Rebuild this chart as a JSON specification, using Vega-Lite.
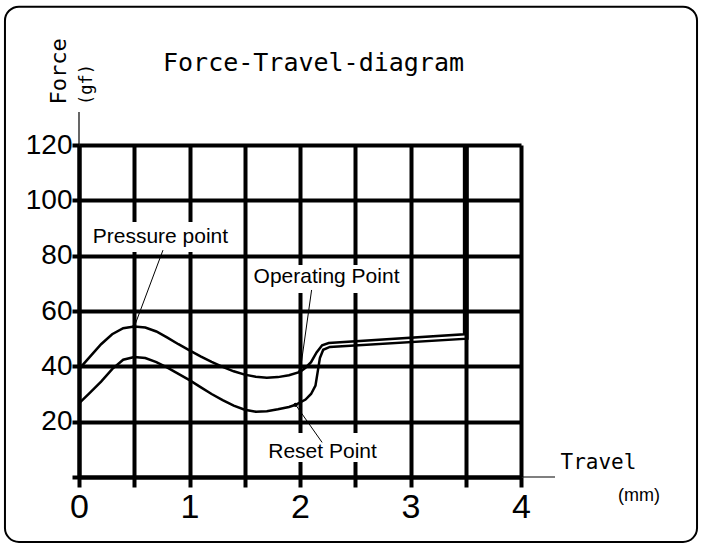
{
  "$schema": "https://vega.github.io/schema/vega-lite/v6.json",
  "width": 442,
  "height": 332,
  "autosize": {"type": "none"},
  "padding": {"left": 79, "top": 145, "right": 183, "bottom": 71},
  "background": "white",
  "title": {
    "text": "Force-Travel-diagram",
    "anchor": "start",
    "frame": "group",
    "dx": 84,
    "offset": -90,
    "baseline": "alphabetic",
    "font": "DejaVu Sans Mono",
    "fontSize": 25,
    "fontWeight": "normal",
    "color": "black"
  },
  "datasets": {
    "curves": [
      {"series": "press", "i": 1, "travel": 0, "force": 39},
      {"series": "press", "i": 2, "travel": 0.1, "force": 43.5},
      {"series": "press", "i": 3, "travel": 0.2, "force": 48},
      {"series": "press", "i": 4, "travel": 0.3, "force": 51.6},
      {"series": "press", "i": 5, "travel": 0.4, "force": 53.8},
      {"series": "press", "i": 6, "travel": 0.5, "force": 54.4},
      {"series": "press", "i": 7, "travel": 0.6, "force": 54},
      {"series": "press", "i": 8, "travel": 0.7, "force": 52.6},
      {"series": "press", "i": 9, "travel": 0.8, "force": 50.4},
      {"series": "press", "i": 10, "travel": 0.9, "force": 48},
      {"series": "press", "i": 11, "travel": 1.0, "force": 45.8},
      {"series": "press", "i": 12, "travel": 1.1, "force": 43.6},
      {"series": "press", "i": 13, "travel": 1.2, "force": 41.6},
      {"series": "press", "i": 14, "travel": 1.3, "force": 39.8},
      {"series": "press", "i": 15, "travel": 1.4, "force": 38.2},
      {"series": "press", "i": 16, "travel": 1.5, "force": 37},
      {"series": "press", "i": 17, "travel": 1.6, "force": 36.2},
      {"series": "press", "i": 18, "travel": 1.7, "force": 35.9},
      {"series": "press", "i": 19, "travel": 1.8, "force": 36.1},
      {"series": "press", "i": 20, "travel": 1.9, "force": 36.8},
      {"series": "press", "i": 21, "travel": 2.0, "force": 38},
      {"series": "press", "i": 22, "travel": 2.05, "force": 39.5},
      {"series": "press", "i": 23, "travel": 2.1, "force": 41.5},
      {"series": "press", "i": 24, "travel": 2.15, "force": 45},
      {"series": "press", "i": 25, "travel": 2.2, "force": 47.6},
      {"series": "press", "i": 26, "travel": 2.26, "force": 48.4},
      {"series": "press", "i": 27, "travel": 3.485, "force": 51.6},
      {"series": "press", "i": 28, "travel": 3.485, "force": 120},
      {"series": "release", "i": 1, "travel": 0, "force": 26.6},
      {"series": "release", "i": 2, "travel": 0.1, "force": 30.5},
      {"series": "release", "i": 3, "travel": 0.2, "force": 34.5},
      {"series": "release", "i": 4, "travel": 0.3, "force": 39},
      {"series": "release", "i": 5, "travel": 0.4, "force": 42.4},
      {"series": "release", "i": 6, "travel": 0.5, "force": 43.4},
      {"series": "release", "i": 7, "travel": 0.6, "force": 43},
      {"series": "release", "i": 8, "travel": 0.7, "force": 41.5},
      {"series": "release", "i": 9, "travel": 0.8, "force": 39.5},
      {"series": "release", "i": 10, "travel": 0.9, "force": 37.3},
      {"series": "release", "i": 11, "travel": 1.0, "force": 35},
      {"series": "release", "i": 12, "travel": 1.1, "force": 32.5},
      {"series": "release", "i": 13, "travel": 1.2, "force": 30},
      {"series": "release", "i": 14, "travel": 1.3, "force": 27.8},
      {"series": "release", "i": 15, "travel": 1.4, "force": 25.8},
      {"series": "release", "i": 16, "travel": 1.5, "force": 24.3},
      {"series": "release", "i": 17, "travel": 1.6, "force": 23.6},
      {"series": "release", "i": 18, "travel": 1.7, "force": 23.8},
      {"series": "release", "i": 19, "travel": 1.8, "force": 24.5},
      {"series": "release", "i": 20, "travel": 1.9, "force": 25.3},
      {"series": "release", "i": 21, "travel": 1.96, "force": 26.1},
      {"series": "release", "i": 22, "travel": 2.05, "force": 28},
      {"series": "release", "i": 23, "travel": 2.1, "force": 30},
      {"series": "release", "i": 24, "travel": 2.14, "force": 33},
      {"series": "release", "i": 25, "travel": 2.16, "force": 38},
      {"series": "release", "i": 26, "travel": 2.18, "force": 43},
      {"series": "release", "i": 27, "travel": 2.21, "force": 46},
      {"series": "release", "i": 28, "travel": 2.27, "force": 47},
      {"series": "release", "i": 29, "travel": 3.515, "force": 50},
      {"series": "release", "i": 30, "travel": 3.515, "force": 120}
    ],
    "frame": [
      {"travel": -0.67, "travel2": 5.593, "force": -23.5, "force2": 170.0}
    ],
    "gaps": [
      {"travel": 0.1, "travel2": 1.385, "force": 81.3, "force2": 92.2},
      {"travel": 1.548, "travel2": 2.93, "force": 66.5, "force2": 76.6},
      {"travel": 1.683, "travel2": 2.742, "force": 5.4, "force2": 15.9}
    ],
    "extensions": [
      {"travel": 0, "travel2": 0, "force": 120, "force2": 131.9},
      {"travel": 4, "travel2": 4.308, "force": 0, "force2": 0}
    ],
    "leaders": [
      {"travel": 0.5, "force": 54.3, "travel2": 0.76, "force2": 82},
      {"travel": 2.0, "force": 37.8, "travel2": 2.105, "force2": 67.6},
      {"travel": 1.96, "force": 26.1, "travel2": 2.2, "force2": 12.5}
    ],
    "points": [
      {"name": "Pressure point", "travel": 0.5, "force": 54.3},
      {"name": "Operating Point", "travel": 2.0, "force": 38},
      {"name": "Reset Point", "travel": 1.96, "force": 26.1}
    ],
    "notes": [
      {"label": "Pressure point", "travel": 0.737, "force": 86.7},
      {"label": "Operating Point", "travel": 2.24, "force": 72.3},
      {"label": "Reset Point", "travel": 2.204, "force": 9.2}
    ],
    "units": [
      {"label": "(gf)", "travel": 0.072, "force": 134.5, "angle": 270},
      {"label": "(mm)", "travel": 4.878, "force": -6.9, "angle": 0}
    ]
  },
  "encoding": {
    "x": {
      "field": "travel",
      "type": "quantitative",
      "scale": {"domain": [0, 4], "nice": false, "zero": false},
      "axis": {
        "values": [0, 0.5, 1, 1.5, 2, 2.5, 3, 3.5, 4],
        "labelExpr": "datum.value % 1 === 0 ? format(datum.value, 'd') : ''",
        "labelFontSize": 34,
        "labelPadding": 3,
        "tickSize": 10,
        "title": "Travel",
        "titleX": 481,
        "titleY": -9,
        "titleAlign": "left",
        "titleBaseline": "alphabetic",
        "titleFontSize": 21
      }
    },
    "y": {
      "field": "force",
      "type": "quantitative",
      "scale": {"domain": [0, 120], "nice": false, "zero": false},
      "axis": {
        "values": [0, 20, 40, 60, 80, 100, 120],
        "labelExpr": "datum.value === 0 ? '' : format(datum.value, 'd')",
        "labelFontSize": 28,
        "labelPadding": 0,
        "tickSize": 7,
        "title": "Force",
        "titleX": -21,
        "titleY": -41,
        "titleAngle": 270,
        "titleAlign": "left",
        "titleBaseline": "middle",
        "titleFontSize": 22
      }
    }
  },
  "layer": [
    {
      "data": {"name": "frame"},
      "mark": {"type": "rect", "fill": null, "fillOpacity": 0, "stroke": "black", "strokeWidth": 2, "cornerRadius": 14},
      "encoding": {"x2": {"field": "travel2"}, "y2": {"field": "force2"}}
    },
    {
      "data": {"name": "gaps"},
      "mark": {"type": "rect", "fill": "white"},
      "encoding": {"x2": {"field": "travel2"}, "y2": {"field": "force2"}}
    },
    {
      "data": {"name": "extensions"},
      "mark": {"type": "rule", "color": "black", "strokeWidth": 1.2},
      "encoding": {"x2": {"field": "travel2"}, "y2": {"field": "force2"}}
    },
    {
      "data": {"name": "curves"},
      "mark": {"type": "line", "color": "black", "strokeWidth": 2.5, "interpolate": "linear"},
      "encoding": {
        "detail": {"field": "series", "type": "nominal"},
        "order": {"field": "i", "type": "quantitative"}
      }
    },
    {
      "data": {"name": "leaders"},
      "mark": {"type": "rule", "color": "black", "strokeWidth": 1},
      "encoding": {"x2": {"field": "travel2"}, "y2": {"field": "force2"}}
    },
    {
      "data": {"name": "points"},
      "mark": {"type": "point", "filled": true, "color": "black", "size": 18, "opacity": 1}
    },
    {
      "data": {"name": "notes"},
      "mark": {"type": "text", "font": "Liberation Sans", "fontSize": 21, "color": "black", "align": "center", "baseline": "middle"},
      "encoding": {"text": {"field": "label"}}
    },
    {
      "data": {"name": "units"},
      "transform": [{"filter": "datum.angle === 270"}],
      "mark": {"type": "text", "font": "DejaVu Sans Mono", "fontSize": 17, "color": "black", "align": "left", "baseline": "middle", "angle": 270},
      "encoding": {"text": {"field": "label"}}
    },
    {
      "data": {"name": "units"},
      "transform": [{"filter": "datum.angle === 0"}],
      "mark": {"type": "text", "font": "Liberation Sans", "fontSize": 18, "color": "black", "align": "left", "baseline": "middle"},
      "encoding": {"text": {"field": "label"}}
    }
  ],
  "config": {
    "view": {"stroke": null},
    "axis": {
      "grid": true,
      "gridColor": "black",
      "gridOpacity": 1,
      "gridWidth": 4,
      "domainColor": "black",
      "domainWidth": 4,
      "tickColor": "black",
      "tickWidth": 4,
      "labelColor": "black",
      "labelFont": "Liberation Sans",
      "labelFlush": false,
      "labelOverlap": false,
      "labelBound": false,
      "titleColor": "black",
      "titleFont": "DejaVu Sans Mono",
      "titleFontWeight": "normal"
    }
  }
}
